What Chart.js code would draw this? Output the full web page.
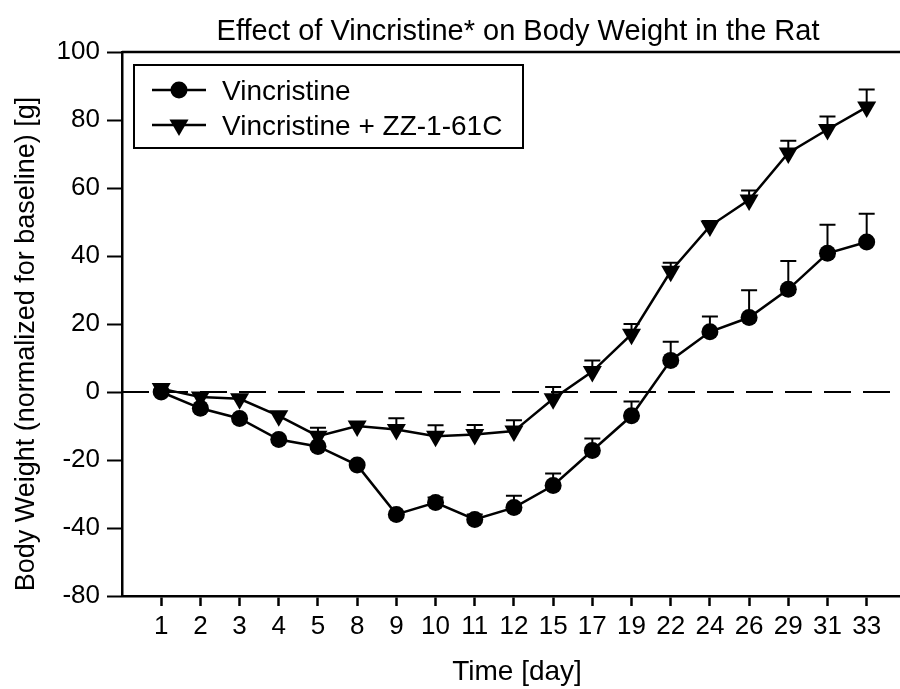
<!DOCTYPE html>
<html><head><meta charset="utf-8">
<script src="https://cdn.jsdelivr.net/npm/chart.js@4"></script>
<style>html,body{margin:0;padding:0;background:#fff}#wrap{width:900px;height:689px}</style>
</head><body><div id="wrap"><canvas id="c" width="900" height="689"></canvas></div>
<script>
const days = ['1','2','3','4','5','8','9','10','11','12','15','17','19','22','24','26','29','31','33'];
const vincristine = [0, -4.8, -7.8, -14, -16, -21.5, -36, -32.5, -37.5, -34, -27.5, -17.2, -7, 9.3, 17.7, 21.9, 30.2, 40.8, 44.1];
const vincristineErr = [0, 0, 0, 0, 0, 0, 0, 1.5, 1.5, 3.5, 3.5, 3.5, 4.2, 5.5, 4.5, 8, 8.3, 8.4, 8.3];
const vincZZ = [1, -1.5, -2, -7, -13, -10, -11, -13, -12.5, -11.5, -2, 6, 17, 35.5, 48.8, 56.5, 70.3, 77.2, 83.8];
const vincZZErr = [0, 0, 0, 0, 2.5, 0, 3.3, 3.2, 2.8, 3.2, 3.5, 3.3, 3, 2.5, 1.5, 2.8, 3.6, 3.8, 5.2];
const yTickValues = [100, 80, 60, 40, 20, 0, -20, -40, -60];
const yTickLabels = ['100', '80', '60', '40', '20', '0', '-20', '-40', '-80'];
const seriesNames = ['Vincristine', 'Vincristine + ZZ-1-61C'];
const titleText = 'Effect of Vincristine* on Body Weight in the Rat';
const xTitleText = 'Time [day]';
const yTitleText = 'Body Weight (normalized for baseline) [g]';

const FONT = '"Liberation Sans", Arial, sans-serif';
const errMap = [vincristineErr, vincZZErr];

function toPoints(arr) { return arr.map((v, i) => ({ x: i + 1, y: v })); }

function drawMarker(ctx, kind, x, y) {
  ctx.fillStyle = '#000';
  ctx.beginPath();
  if (kind === 'circle') {
    ctx.arc(x, y, 8.5, 0, Math.PI * 2);
  } else {
    const r = 11;
    ctx.moveTo(x, y + r);
    ctx.lineTo(x - r * Math.sin(Math.PI / 3), y - r / 2);
    ctx.lineTo(x + r * Math.sin(Math.PI / 3), y - r / 2);
    ctx.closePath();
  }
  ctx.fill();
}

const deco = {
  id: 'deco',
  beforeDatasetsDraw(chart) {
    const { ctx, chartArea: a, scales: { x, y } } = chart;
    ctx.save();
    ctx.strokeStyle = '#000';
    // zero dashed line
    ctx.setLineDash([27, 12]);
    ctx.lineWidth = 2;
    const y0 = y.getPixelForValue(0);
    ctx.beginPath(); ctx.moveTo(a.left, y0); ctx.lineTo(a.right, y0); ctx.stroke();
    ctx.setLineDash([]);
    // top frame line
    ctx.lineWidth = 2.5;
    ctx.beginPath(); ctx.moveTo(a.left, a.top); ctx.lineTo(a.right, a.top); ctx.stroke();
    // error bars (upper)
    ctx.lineWidth = 2;
    chart.data.datasets.forEach((ds, di) => {
      const errs = errMap[di];
      ds.data.forEach((p, i) => {
        const e = errs[i];
        if (!e) return;
        const px = x.getPixelForValue(p.x);
        const py = y.getPixelForValue(p.y);
        const pt = y.getPixelForValue(p.y + e);
        ctx.beginPath();
        ctx.moveTo(px, py); ctx.lineTo(px, pt);
        ctx.moveTo(px - 8, pt); ctx.lineTo(px + 8, pt);
        ctx.stroke();
      });
    });
    ctx.restore();
  },
  afterDraw(chart) {
    const { ctx } = chart;
    ctx.save();
    ctx.fillStyle = '#000';
    // chart title
    ctx.font = '29px ' + FONT;
    ctx.textAlign = 'center';
    ctx.textBaseline = 'alphabetic';
    ctx.fillText(titleText, 518, 40);
    // x title
    ctx.font = '28px ' + FONT;
    ctx.fillText(xTitleText, 517, 680);
    // y title
    ctx.save();
    ctx.translate(34, 344);
    ctx.rotate(-Math.PI / 2);
    ctx.font = '27px ' + FONT;
    ctx.fillText(yTitleText, 0, 0);
    ctx.restore();
    // legend
    ctx.lineWidth = 2;
    ctx.strokeStyle = '#000';
    ctx.strokeRect(134, 65, 389, 83);
    const rows = [90, 125];
    const kinds = ['circle', 'triangle'];
    rows.forEach((ry, i) => {
      ctx.lineWidth = 2.5;
      ctx.beginPath(); ctx.moveTo(152, ry); ctx.lineTo(206, ry); ctx.stroke();
      drawMarker(ctx, kinds[i], 179, ry);
      ctx.font = '28px ' + FONT;
      ctx.textAlign = 'left';
      ctx.textBaseline = 'alphabetic';
      ctx.fillStyle = '#000';
      ctx.fillText(seriesNames[i], 222, ry + 10);
    });
    ctx.restore();
  }
};

new Chart(document.getElementById('c'), {
  type: 'line',
  data: {
    datasets: [
      {
        label: seriesNames[0],
        data: toPoints(vincristine),
        borderColor: '#000', backgroundColor: '#000', borderWidth: 2.5,
        pointStyle: 'circle', pointRadius: 8.5, pointBackgroundColor: '#000', pointBorderWidth: 0,
        tension: 0, clip: false
      },
      {
        label: seriesNames[1],
        data: toPoints(vincZZ),
        borderColor: '#000', backgroundColor: '#000', borderWidth: 2.5,
        pointStyle: 'triangle', rotation: 180, pointRadius: 11, pointBackgroundColor: '#000', pointBorderWidth: 0,
        tension: 0, clip: false
      }
    ]
  },
  options: {
    responsive: false,
    animation: false,
    devicePixelRatio: 1,
    layout: { autoPadding: false, padding: { top: 52, left: 0, right: 0, bottom: 0 } },
    plugins: { legend: { display: false }, tooltip: { enabled: false }, title: { display: false } },
    scales: {
      x: {
        type: 'linear', min: 0, max: 19.85,
        afterFit(s) { s.height = 93; s.paddingLeft = 0; s.paddingRight = 0; },
        afterBuildTicks(s) { s.ticks = days.map((d, i) => ({ value: i + 1 })); },
        ticks: {
          autoSkip: false, maxRotation: 0, padding: 5, color: '#000',
          font: { family: FONT, size: 26 },
          callback: (v) => days[Math.round(v) - 1] ?? ''
        },
        grid: { drawOnChartArea: false, drawTicks: true, tickLength: 10, tickWidth: 2.5, tickColor: '#000' },
        border: { display: true, color: '#000', width: 2.5 }
      },
      y: {
        type: 'linear', min: -60, max: 100,
        afterFit(s) { s.width = 122; s.paddingTop = 0; s.paddingBottom = 0; },
        afterBuildTicks(s) { s.ticks = yTickValues.map(v => ({ value: v })); },
        ticks: {
          autoSkip: false, padding: 7, color: '#000',
          font: { family: FONT, size: 26 },
          callback: (v) => { const i = yTickValues.indexOf(v); return i >= 0 ? yTickLabels[i] : ''; }
        },
        grid: { drawOnChartArea: false, drawTicks: true, tickLength: 15, tickWidth: 2, tickColor: '#000' },
        border: { display: true, color: '#000', width: 2.5 }
      }
    }
  },
  plugins: [deco]
});
</script>
</body></html>
